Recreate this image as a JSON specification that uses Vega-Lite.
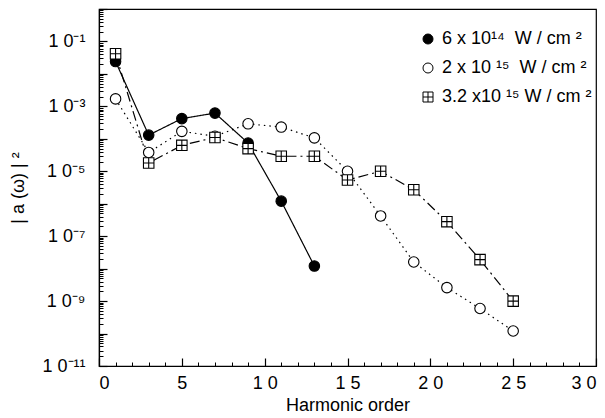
{
  "$schema": "https://vega.github.io/schema/vega-lite/v6.json",
  "autosize": "none",
  "width": 497,
  "height": 357,
  "padding": {"left": 99, "top": 9, "right": 9, "bottom": 52},
  "background": "white",
  "config": {
    "view": {"stroke": "black", "strokeWidth": 1.2},
    "font": "Liberation Sans",
    "axis": {"grid": false, "domainColor": "black", "tickColor": "black", "labelColor": "black", "titleColor": "black", "labelFont": "Liberation Sans", "titleFont": "Liberation Sans", "titleFontWeight": "normal"},
    "legend": {"orient": "none", "legendX": 320, "legendY": 21, "padding": 0, "labelFont": "Liberation Sans", "labelFontSize": 18, "labelColor": "black", "symbolSize": 100, "symbolStrokeColor": "black", "symbolStrokeWidth": 1, "rowPadding": 11, "labelOffset": 5, "labelLimit": 300}
  },
  "data": {"values": [
    {"h": 1, "v": 2.4e-2, "s": "6 x 10¹⁴\u00a0 W / cm ²"},
    {"h": 3, "v": 1.3e-4, "s": "6 x 10¹⁴\u00a0 W / cm ²"},
    {"h": 5, "v": 4.2e-4, "s": "6 x 10¹⁴\u00a0 W / cm ²"},
    {"h": 7, "v": 6.2e-4, "s": "6 x 10¹⁴\u00a0 W / cm ²"},
    {"h": 9, "v": 7.4e-5, "s": "6 x 10¹⁴\u00a0 W / cm ²"},
    {"h": 11, "v": 1.2e-6, "s": "6 x 10¹⁴\u00a0 W / cm ²"},
    {"h": 13, "v": 1.2e-8, "s": "6 x 10¹⁴\u00a0 W / cm ²"},
    {"h": 1, "v": 1.7e-3, "s": "2 x 10 ¹⁵\u00a0 W / cm ²"},
    {"h": 3, "v": 3.8e-5, "s": "2 x 10 ¹⁵\u00a0 W / cm ²"},
    {"h": 5, "v": 1.7e-4, "s": "2 x 10 ¹⁵\u00a0 W / cm ²"},
    {"h": 7, "v": 1.2e-4, "s": "2 x 10 ¹⁵\u00a0 W / cm ²"},
    {"h": 9, "v": 2.9e-4, "s": "2 x 10 ¹⁵\u00a0 W / cm ²"},
    {"h": 11, "v": 2.3e-4, "s": "2 x 10 ¹⁵\u00a0 W / cm ²"},
    {"h": 13, "v": 1.07e-4, "s": "2 x 10 ¹⁵\u00a0 W / cm ²"},
    {"h": 15, "v": 1.0e-5, "s": "2 x 10 ¹⁵\u00a0 W / cm ²"},
    {"h": 17, "v": 4.2e-7, "s": "2 x 10 ¹⁵\u00a0 W / cm ²"},
    {"h": 19, "v": 1.6e-8, "s": "2 x 10 ¹⁵\u00a0 W / cm ²"},
    {"h": 21, "v": 2.6e-9, "s": "2 x 10 ¹⁵\u00a0 W / cm ²"},
    {"h": 23, "v": 5.9e-10, "s": "2 x 10 ¹⁵\u00a0 W / cm ²"},
    {"h": 25, "v": 1.2e-10, "s": "2 x 10 ¹⁵\u00a0 W / cm ²"},
    {"h": 1, "v": 4.2e-2, "s": "3.2 x10 ¹⁵ W / cm ²"},
    {"h": 3, "v": 1.8e-5, "s": "3.2 x10 ¹⁵ W / cm ²"},
    {"h": 5, "v": 6.3e-5, "s": "3.2 x10 ¹⁵ W / cm ²"},
    {"h": 7, "v": 1.1e-4, "s": "3.2 x10 ¹⁵ W / cm ²"},
    {"h": 9, "v": 5.0e-5, "s": "3.2 x10 ¹⁵ W / cm ²"},
    {"h": 11, "v": 2.9e-5, "s": "3.2 x10 ¹⁵ W / cm ²"},
    {"h": 13, "v": 2.9e-5, "s": "3.2 x10 ¹⁵ W / cm ²"},
    {"h": 15, "v": 5.4e-6, "s": "3.2 x10 ¹⁵ W / cm ²"},
    {"h": 17, "v": 1.0e-5, "s": "3.2 x10 ¹⁵ W / cm ²"},
    {"h": 19, "v": 2.7e-6, "s": "3.2 x10 ¹⁵ W / cm ²"},
    {"h": 21, "v": 2.8e-7, "s": "3.2 x10 ¹⁵ W / cm ²"},
    {"h": 23, "v": 1.9e-8, "s": "3.2 x10 ¹⁵ W / cm ²"},
    {"h": 25, "v": 1.0e-9, "s": "3.2 x10 ¹⁵ W / cm ²"}
  ]},
  "resolve": {"axis": {"x": "independent", "y": "independent"}},
  "layer": [
    {
      "mark": {"type": "line", "color": "black", "strokeWidth": 1.2},
      "encoding": {
        "x": {"field": "h", "type": "quantitative", "scale": {"domain": [0, 30], "nice": false, "zero": false},
          "axis": {"orient": "bottom", "values": [0, 5, 10, 15, 20, 25, 30], "tickSize": -8, "tickWidth": 1.2, "labelPadding": 16, "labelFontSize": 18,
            "labelExpr": "{'0':'0','5':'5','10':'1 0','15':'1 5','20':'2 0','25':'2 5','30':'3 0'}[''+datum.value]",
            "title": "Harmonic order", "titleFontSize": 18, "titlePadding": 4, "domainWidth": 1.2}},
        "y": {"field": "v", "type": "quantitative", "scale": {"type": "log", "domain": [1e-11, 1], "nice": false},
          "axis": {"orient": "left", "values": [1e-11, 1e-10, 1e-9, 1e-8, 1e-7, 1e-6, 1e-5, 1e-4, 1e-3, 1e-2, 1e-1, 1],
            "tickSize": -8, "tickWidth": 1.2, "labelPadding": 22, "labelFontSize": 18, "labelBaseline": "middle",
            "labelExpr": "{'-1':'1 0⁻¹','-3':'1 0⁻³','-5':'1 0⁻⁵','-7':'1 0⁻⁷','-9':'1 0⁻⁹','-11':'1 0⁻¹¹'}[''+round(log(datum.value)/LN10)] || ''",
            "title": "| a (ω) | ²", "titleFontSize": 18, "titlePadding": 14, "domainWidth": 1.2}},
        "detail": {"field": "s"},
        "strokeDash": {"field": "s", "type": "nominal", "legend": null,
          "scale": {"domain": ["2 x 10 ¹⁵\u00a0 W / cm ²", "3.2 x10 ¹⁵ W / cm ²", "6 x 10¹⁴\u00a0 W / cm ²"], "range": [[1.5, 4], [10, 4, 2, 4], [1, 0]]}}
      }
    },
    {
      "mark": {"type": "point", "filled": true, "strokeWidth": 1.1, "size": 110, "opacity": 1},
      "encoding": {
        "x": {"field": "h", "type": "quantitative",
          "axis": {"orient": "bottom", "values": [1,2,3,4,6,7,8,9,11,12,13,14,16,17,18,19,21,22,23,24,26,27,28,29], "tickSize": -4, "labels": false, "title": null, "domain": false}},
        "y": {"field": "v", "type": "quantitative",
          "axis": {"orient": "left", "tickSize": -4, "labels": false, "title": null, "domain": false,
            "values": [2e-11,3e-11,4e-11,5e-11,6e-11,7e-11,8e-11,9e-11,2e-10,3e-10,4e-10,5e-10,6e-10,7e-10,8e-10,9e-10,2e-9,3e-9,4e-9,5e-9,6e-9,7e-9,8e-9,9e-9,2e-8,3e-8,4e-8,5e-8,6e-8,7e-8,8e-8,9e-8,2e-7,3e-7,4e-7,5e-7,6e-7,7e-7,8e-7,9e-7,2e-6,3e-6,4e-6,5e-6,6e-6,7e-6,8e-6,9e-6,2e-5,3e-5,4e-5,5e-5,6e-5,7e-5,8e-5,9e-5,2e-4,3e-4,4e-4,5e-4,6e-4,7e-4,8e-4,9e-4,2e-3,3e-3,4e-3,5e-3,6e-3,7e-3,8e-3,9e-3,2e-2,3e-2,4e-2,5e-2,6e-2,7e-2,8e-2,9e-2,0.2,0.3,0.4,0.5,0.6,0.7,0.8,0.9]}},
        "shape": {"field": "s", "type": "nominal", "title": null,
          "scale": {"domain": ["6 x 10¹⁴\u00a0 W / cm ²", "2 x 10 ¹⁵\u00a0 W / cm ²", "3.2 x10 ¹⁵ W / cm ²"], "range": ["circle", "circle", "M-1,-1H1V1H-1Z M0,-1V1 M-1,0H1"]}},
        "fill": {"field": "s", "type": "nominal", "title": null,
          "scale": {"domain": ["6 x 10¹⁴\u00a0 W / cm ²", "2 x 10 ¹⁵\u00a0 W / cm ²", "3.2 x10 ¹⁵ W / cm ²"], "range": ["black", "white", "white"]}},
        "stroke": {"field": "s", "type": "nominal", "title": null,
          "scale": {"domain": ["6 x 10¹⁴\u00a0 W / cm ²", "2 x 10 ¹⁵\u00a0 W / cm ²", "3.2 x10 ¹⁵ W / cm ²"], "range": ["black", "black", "black"]}}
      }
    }
  ]
}
